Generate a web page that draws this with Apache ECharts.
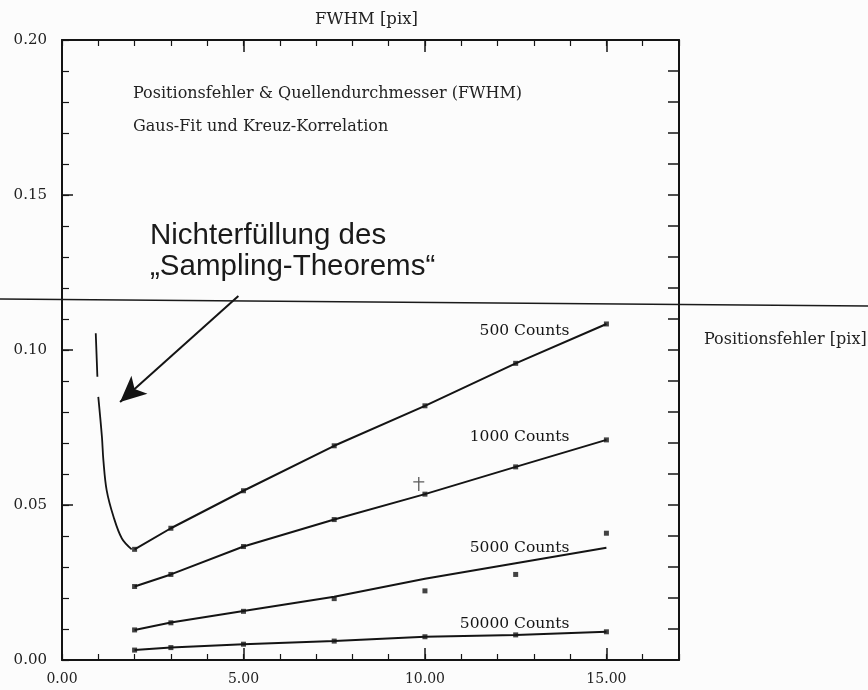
<!DOCTYPE html>
<html>
<head>
<meta charset="utf-8">
<script src="https://cdn.jsdelivr.net/npm/echarts@6/dist/echarts.min.js"></script>
<style>
  html, body { margin: 0; padding: 0; background: #fcfcfc; }
  #chart { width: 868px; height: 690px; }
</style>
</head>
<body>
<div id="chart"></div>
<script>
// FWHM values (pix) at which the position error was measured
const fwhm = [2, 3, 5, 7.5, 10, 12.5, 15];

// measured position error (pix) per count level
const err500   = [0.0357, 0.0425, 0.0546, 0.0691, 0.0820, 0.0957, 0.1084];
const err1000  = [0.0237, 0.0276, 0.0366, 0.0453, 0.0535, 0.0623, 0.0710];
const err5000  = [0.0097, 0.0120, 0.0157, 0.0198, 0.0223, 0.0276, 0.0409];
const err50000 = [0.0032, 0.0040, 0.0051, 0.0061, 0.0075, 0.0081, 0.0091];

// fitted curves per count level
const fit500   = [0.0357, 0.0425, 0.0546, 0.0691, 0.0820, 0.0957, 0.1084];
const fit1000  = [0.0237, 0.0276, 0.0366, 0.0453, 0.0535, 0.0623, 0.0710];
const fit5000  = [0.0097, 0.0121, 0.0158, 0.0204, 0.0262, 0.0312, 0.0362];
const fit50000 = [0.0032, 0.0040, 0.0051, 0.0061, 0.0075, 0.0081, 0.0091];

const countLabels = ['500 Counts', '1000 Counts', '5000 Counts', '50000 Counts'];

// rise of the error below the sampling limit (null = gap in the trace)
const underFwhm = [0.93, 0.975, null, 1.0, 1.10, 1.14, 1.23, 1.42, 1.65, 1.92];
const underErr  = [0.1054, 0.0914, null, 0.0849, 0.0720, 0.0645, 0.0548, 0.0462, 0.0392, 0.0357];

// single cross marker next to the 1000-count curve
const crossPoint = [9.83, 0.0568];

// annotation arrow (data coordinates)
const arrowFrom = [4.86, 0.1174];
const arrowTo   = [1.60, 0.0832];

const xTickLabels = ['0.00', '5.00', '10.00', '15.00'];
const yTickLabels = ['0.00', '0.05', '0.10', '0.15', '0.20'];

const INK = '#141414';
const serif = 'DejaVu Serif';

function pairs(xs, ys) {
  return xs.map((x, i) => (x === null ? ['-', '-'] : [x, ys[i]]));
}

function fitSeries(ys, label, dy) {
  return {
    type: 'line', data: pairs(fwhm, ys), showSymbol: false, symbol: 'none',
    lineStyle: { color: INK, width: 2 }, silent: true, z: 3,
    endLabel: {
      show: true, formatter: label, distance: 0, offset: [-37, dy],
      align: 'right', verticalAlign: 'middle',
      fontFamily: serif, fontSize: 15.5, color: INK
    }
  };
}

function pointSeries(ys) {
  return {
    type: 'scatter', data: pairs(fwhm, ys), symbol: 'rect', symbolSize: 5,
    itemStyle: { color: INK }, silent: true, z: 4
  };
}

const chart = echarts.init(document.getElementById('chart'), null, { renderer: 'canvas' });

function frameAxis(position, max, interval, len, withLine, labelCfg) {
  return {
    type: 'value', position: position, min: 0, max: max, interval: interval,
    splitLine: { show: false },
    axisLine: { show: withLine, onZero: false, lineStyle: { color: INK, width: 2 } },
    axisTick: { inside: true, length: len, lineStyle: { color: INK, width: len > 8 ? 1.5 : 1.2 } },
    axisLabel: labelCfg || { show: false }
  };
}

chart.setOption({
  backgroundColor: '#fcfcfc',
  animation: false,
  grid: { left: 62, top: 40, right: 189, bottom: 30 },
  xAxis: [
    frameAxis('bottom', 17, 5, 12, true, {
      showMaxLabel: false, margin: 12, fontFamily: serif, fontSize: 14, color: '#222',
      formatter: v => xTickLabels[Math.round(v / 5)] || ''
    }),
    frameAxis('bottom', 17, 1, 6, false),
    frameAxis('top', 17, 5, 12, true),
    frameAxis('top', 17, 1, 6, false)
  ],
  yAxis: [
    frameAxis('left', 0.2, 0.05, 11, true, {
      margin: 15, fontFamily: serif, fontSize: 15, color: '#222', padding: [0, 0, 6, 0],
      formatter: v => yTickLabels[Math.round(v / 0.05)] || ''
    }),
    frameAxis('left', 0.2, 0.01, 7, false),
    frameAxis('right', 0.2, 0.05, 11, true),
    frameAxis('right', 0.2, 0.01, 11, false)
  ],
  series: [
    fitSeries(fit500, countLabels[0], 7),
    fitSeries(fit1000, countLabels[1], -3),
    fitSeries(fit5000, countLabels[2], 0),
    fitSeries(fit50000, countLabels[3], -8),
    pointSeries(err500),
    pointSeries(err1000),
    pointSeries(err5000),
    pointSeries(err50000),
    {
      type: 'line', data: pairs(underFwhm, underErr), smooth: 0.35, connectNulls: false,
      showSymbol: false, symbol: 'none', lineStyle: { color: INK, width: 1.8 }, silent: true,
      markLine: {
        silent: true, symbol: ['none', 'arrow'], symbolSize: [18, 26],
        lineStyle: { color: INK, width: 2, type: 'solid' }, label: { show: false },
        data: [[{ coord: arrowFrom }, { coord: arrowTo }]]
      }
    },
    {
      type: 'scatter', data: [crossPoint], silent: true,
      symbol: 'path://M4.4,0 h1.2 v4.4 h4.4 v1.2 h-4.4 v8.4 h-1.2 v-8.4 h-4.4 v-1.2 h4.4 z',
      symbolSize: [11, 14], itemStyle: { color: '#333' }
    }
  ],
  graphic: [
    {
      type: 'line', silent: true, z: 10,
      shape: { x1: 0, y1: 299, x2: 868, y2: 306 },
      style: { stroke: '#1a1a1a', lineWidth: 1.6 }
    },
    {
      type: 'text', left: 315, top: 11,
      style: { text: 'FWHM [pix]', font: '16.5px "DejaVu Serif"', fill: '#222' }
    },
    {
      type: 'text', left: 704, top: 332,
      style: { text: 'Positionsfehler [pix]', font: '16px "DejaVu Serif"', fill: '#222' }
    },
    {
      type: 'text', left: 133, top: 86,
      style: { text: 'Positionsfehler & Quellendurchmesser (FWHM)', font: '16px "DejaVu Serif"', fill: '#222' }
    },
    {
      type: 'text', left: 133, top: 119,
      style: { text: 'Gaus-Fit und Kreuz-Korrelation', font: '16px "DejaVu Serif"', fill: '#222' }
    },
    {
      type: 'text', left: 150, top: 220,
      style: {
        text: 'Nichterfüllung des\n„Sampling-Theorems“',
        font: '29.5px "Liberation Sans"', lineHeight: 31, fill: '#1a1a1a'
      }
    }
  ]
});
</script>
</body>
</html>
